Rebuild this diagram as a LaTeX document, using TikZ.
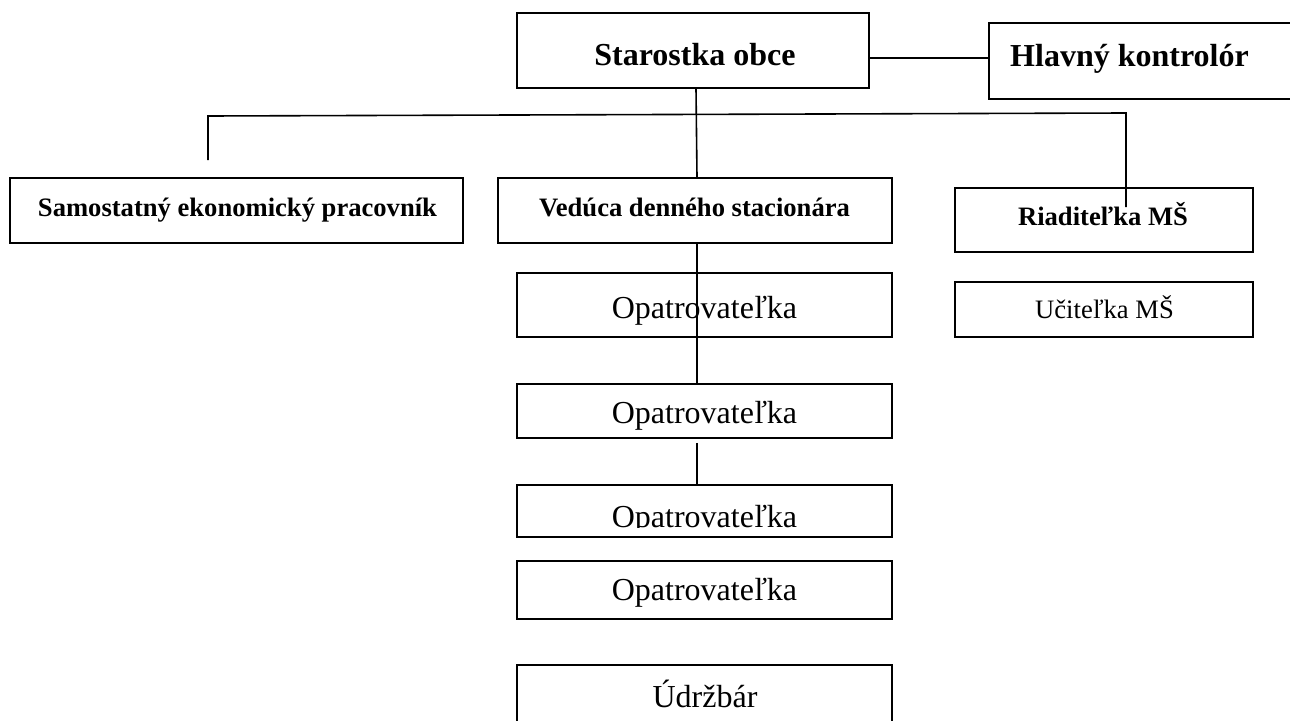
\documentclass[tikz,border=0pt]{standalone}
\usepackage{fontspec}
\setmainfont{Liberation Serif}
\begin{document}
\begin{tikzpicture}[x=1pt,y=-1pt,
  box/.style={draw, line width=1.6pt, inner sep=0pt, minimum width=#1},
  conn/.style={line width=1.6pt},
  bigb/.style={inner sep=0pt, font=\fontsize{32}{38}\selectfont\bfseries},
  bigr/.style={inner sep=0pt, font=\fontsize{32}{38}\selectfont},
  smb/.style={inner sep=0pt, font=\fontsize{26.6}{32}\selectfont\bfseries},
  smr/.style={inner sep=0pt, font=\fontsize{26.6}{32}\selectfont}]
\clip (0,0) rectangle (1290,720);
\fill[white] (0,0) rectangle (1290,720);
% boxes
\node[box=352pt, minimum height=75pt] (starostka) at (693,50.5) {};
\node[box=321pt, minimum height=76pt] (hlavny) at (1149.5,61) {};
\node[box=453pt, minimum height=65pt] (samostatny) at (236.5,210.5) {};
\node[box=394pt, minimum height=65pt] (veduca) at (695,210.5) {};
\node[box=298pt, minimum height=64pt] (riaditelka) at (1104,220) {};
\node[box=298pt, minimum height=55pt] (ucitelka) at (1104,309.5) {};
\node[box=375pt, minimum height=64pt] (opat1) at (704.5,305) {};
\node[box=375pt, minimum height=54pt] (opat2) at (704.5,411) {};
\node[box=375pt, minimum height=52pt] (opat3) at (704.5,511) {};
\node[box=375pt, minimum height=58pt] (opat4) at (704.5,590) {};
\node[box=375pt, minimum height=80pt] (udrzbar) at (704.5,705) {};
% texts
\node[bigb, anchor=base] (tstar) at (695,65) {Starostka obce};
\node[bigb, anchor=base west] (thlav) at (1010,66) {Hlavný kontrolór};
\node[smb, anchor=base] (tsam) at (237.5,216) {Samostatný ekonomický pracovník};
\node[smb, anchor=base] (tved) at (694.5,216) {Vedúca denného stacionára};
\node[smb, anchor=base] (trid) at (1103,225) {Riaditeľka MŠ};
\node[smr, anchor=base] (tuci) at (1104.5,318) {Učiteľka MŠ};
\node[bigr, anchor=base] (top1) at (704.5,318) {Opatrovateľka};
\node[bigr, anchor=base] (top2) at (704.5,423) {Opatrovateľka};
\begin{scope}
\clip (500,440) rectangle (900,527.5);
\node[bigr, anchor=base] (top3) at (704.5,527) {Opatrovateľka};
\end{scope}
\node[bigr, anchor=base] (top4) at (704.5,600) {Opatrovateľka};
\node[bigr, anchor=base] (tudr) at (705,707) {Údržbár};
% connectors
\coordinate (hk) at (0,58);
\coordinate (bl1) at (208,160);
\coordinate (bl2) at (208,116);
\coordinate (br1) at (1126,113);
\coordinate (rend) at (1126,207);
\draw[conn] (starostka.east |- hk) -- (hlavny.west |- hk);
\draw[conn] ([xshift=3pt]starostka.south) -- ([xshift=2pt]veduca.north);
\draw[conn] (bl1) -- (bl2) -- (br1) -- (rend);
\draw[conn] ([xshift=2pt]veduca.south) -- ([xshift=-7.5pt]opat2.north);
\draw[conn] ([xshift=-7.5pt,yshift=-4pt]opat2.south) -- ([xshift=-7.5pt]opat3.north);
\end{tikzpicture}
\end{document}
